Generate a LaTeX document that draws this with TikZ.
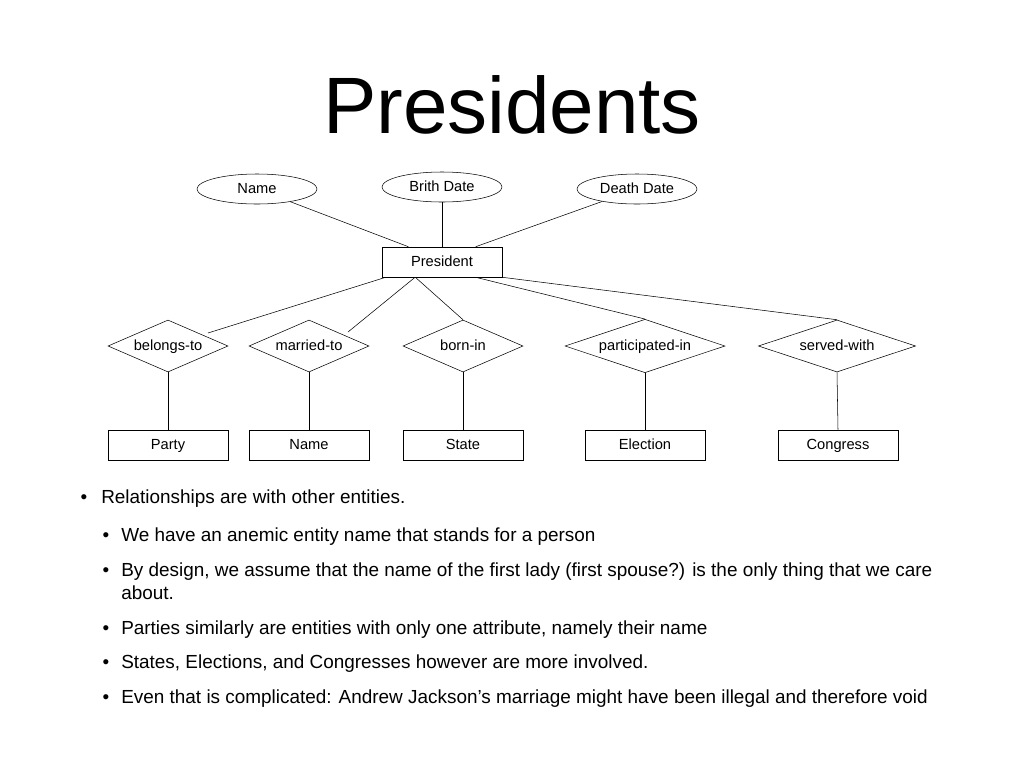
\documentclass[tikz,border=0pt]{standalone}
\usepackage{fontspec}
\setmainfont{Liberation Sans}
\usetikzlibrary{shapes.geometric}
\begin{document}
\begin{tikzpicture}[x=0.75pt,y=-0.75pt,
 lab/.style={inner sep=0,text height=8pt,text depth=2pt,font=\fontsize{11}{13}\selectfont},
 ent/.style={draw,minimum width=90pt,minimum height=22.5pt,lab},
 att/.style={draw,ellipse,minimum width=90pt,minimum height=22.5pt,lab},
 rel/.style={draw,diamond,minimum width=90pt,minimum height=39pt,shape aspect=2.3,lab},
 bl/.style={anchor=base west,inner sep=0,font=\fontsize{14.2}{17.5}\selectfont,align=left},
 bu/.style={anchor=base,inner sep=0,font=\fontsize{14.2}{17.5}\selectfont}]
\useasboundingbox (0,0) rectangle (1024,768);
\node (title) at (512,105) {\fontsize{60}{64}\selectfont Presidents};
\node[ent] (P) at (442,262) {President};
\node[att] (a1) at (257,189) {Name};
\node[att] (a2) at (442,187) {Brith Date};
\node[att] (a3) at (637,189) {Death Date};
\draw (a1) -- ([xshift=20pt]P.north west);
\draw (a2) -- (P);
\draw (a3) -- ([xshift=-20pt]P.north east);
\node[rel] (r1) at (168,346) {belongs-to};
\node[rel] (r2) at (309,346) {married-to};
\node[rel] (r3) at (463,346) {born-in};
\node[rel,minimum width=120pt] (r4) at (645,346) {participated-in};
\node[rel,minimum width=118pt] (r5) at (837,346) {served-with};
\coordinate (c1) at (208,333);
\coordinate (c2) at (348,332);
\draw (c1) -- ([xshift=3pt]P.south west);
\draw (c2) -- ([xshift=25pt]P.south west);
\draw (r3.north) -- ([xshift=-20pt]P.south);
\draw (r4.north) -- ([xshift=-20pt]P.south east);
\draw (r5.north) -- (P.south east);
\node[ent] (e1) at (168,445) {Party};
\node[ent] (e2) at (309,445) {Name};
\node[ent] (e3) at (463,445) {State};
\node[ent] (e4) at (645,445) {Election};
\node[ent] (e5) at (838,445) {Congress};
\foreach \i in {1,...,5}{\draw (r\i.south) -- (e\i.north);}
\node[bu] (d0) at (84,503) {\textbullet};
\node[bl] (b0) at (101,503) {Relationships are with other entities.};
\foreach \n/\y in {1/541,2/576,3/634,4/668,5/703}{\node[bu] (d\n) at (106,\y) {\textbullet};}
\node[bl] (b1) at (121,541) {We have an anemic entity name that stands for a person};
\node[bl] (b2) at (121,576) {By design, we assume that the name of the first lady (first spouse?) is the only thing that we care};
\node[bl] (b2b) at (121,599) {about.};
\node[bl] (b3) at (121,634) {Parties similarly are entities with only one attribute, namely their name};
\node[bl] (b4) at (121,668) {States, Elections, and Congresses however are more involved.};
\node[bl] (b5) at (121,703) {Even that is complicated: Andrew Jackson’s marriage might have been illegal and therefore void};
\end{tikzpicture}
\end{document}
